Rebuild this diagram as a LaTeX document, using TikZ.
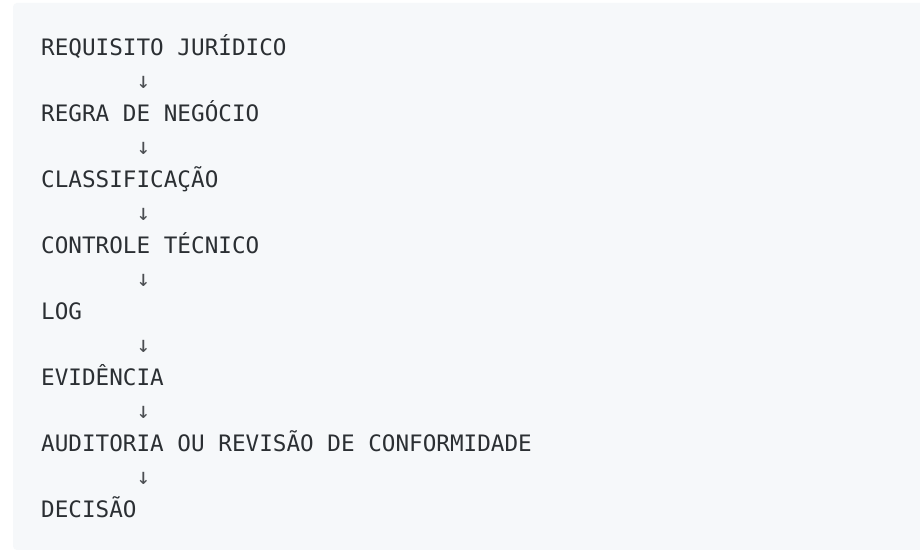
\documentclass[tikz,border=0pt]{standalone}
\usepackage{fontspec}
\setmonofont{DejaVu Sans Mono}
\definecolor{codebg}{HTML}{F6F8FA}
\definecolor{codefg}{HTML}{2B2F33}
\begin{document}
\begin{tikzpicture}[x=1pt,y=1pt,
  codeline/.style={anchor=base west,inner sep=0pt,font=\ttfamily\fontsize{22.64}{33}\selectfont,text=codefg},
  arrowline/.style={codeline,text=codefg!85}]
\useasboundingbox (0,0) rectangle (920,556);
\fill[white] (0,0) rectangle (920,556);
\fill[codebg,rounded corners=4pt] (13,6) rectangle (925,553);
\node[codeline] (l1) at (41,{556-56}) {REQUISITO JURÍDICO};
\node[arrowline] (a1) at (41,{556-89}) {\ \ \ \ \ \ \ ↓};
\node[codeline] (l2) at (41,{556-122}) {REGRA DE NEGÓCIO};
\node[arrowline] (a2) at (41,{556-155}) {\ \ \ \ \ \ \ ↓};
\node[codeline] (l3) at (41,{556-188}) {CLASSIFICAÇÃO};
\node[arrowline] (a3) at (41,{556-221}) {\ \ \ \ \ \ \ ↓};
\node[codeline] (l4) at (41,{556-254}) {CONTROLE TÉCNICO};
\node[arrowline] (a4) at (41,{556-287}) {\ \ \ \ \ \ \ ↓};
\node[codeline] (l5) at (41,{556-320}) {LOG};
\node[arrowline] (a5) at (41,{556-353}) {\ \ \ \ \ \ \ ↓};
\node[codeline] (l6) at (41,{556-386}) {EVIDÊNCIA};
\node[arrowline] (a6) at (41,{556-419}) {\ \ \ \ \ \ \ ↓};
\node[codeline] (l7) at (41,{556-452}) {AUDITORIA OU REVISÃO DE CONFORMIDADE};
\node[arrowline] (a7) at (41,{556-485}) {\ \ \ \ \ \ \ ↓};
\node[codeline] (l8) at (41,{556-518}) {DECISÃO};
\end{tikzpicture}
\end{document}
